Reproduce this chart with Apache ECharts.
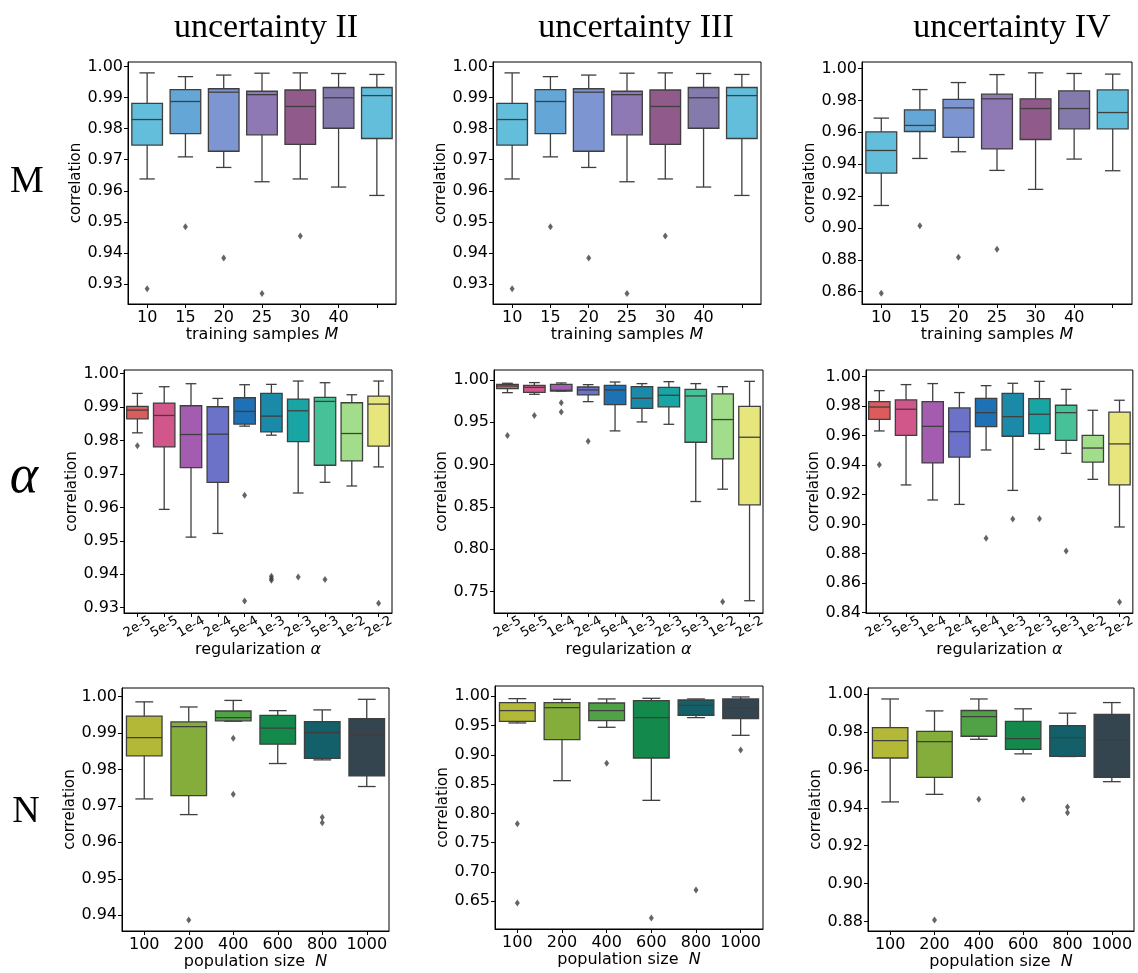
<!DOCTYPE html>
<html><head><meta charset="utf-8">
<script src="https://cdn.jsdelivr.net/npm/echarts@6/dist/echarts.min.js"></script>
<style>html,body{margin:0;padding:0;background:#fff}#c{width:1138px;height:973px}</style>
</head><body><div id="c"></div>
<script>
// ---------- categories ----------
const catM = ['10','15','20','25','30','40',''];
const catAlpha = ['2e-5','5e-5','1e-4','2e-4','5e-4','1e-3','2e-3','5e-3','1e-2','2e-2'];
const catN = ['100','200','400','600','800','1000'];

const colTitles = ['uncertainty II','uncertainty III','uncertainty IV'];
const rowLabels = ['M','α','N'];

// ---------- box data: [low whisker, Q1, median, Q3, high whisker] ----------
const boxM_II = [
 [0.9638,0.9747,0.9829,0.9881,0.9979],
 [0.9709,0.9784,0.9887,0.9925,0.9967],
 [0.9675,0.9727,0.9917,0.9928,0.9972],
 [0.9629,0.9780,0.9909,0.9920,0.9978],
 [0.9638,0.9749,0.9871,0.9924,0.9979],
 [0.9612,0.9801,0.9899,0.9932,0.9977],
 [0.9585,0.9768,0.9906,0.9932,0.9974]
];
const outM_II = [[0,0.9285],[1,0.9484],[2,0.9384],[3,0.9270],[4,0.9455]];

const boxM_III = [
 [0.9638,0.9747,0.9829,0.9881,0.9979],
 [0.9709,0.9784,0.9887,0.9925,0.9967],
 [0.9675,0.9727,0.9917,0.9928,0.9972],
 [0.9629,0.9780,0.9909,0.9920,0.9978],
 [0.9638,0.9749,0.9871,0.9924,0.9979],
 [0.9612,0.9801,0.9899,0.9932,0.9977],
 [0.9585,0.9768,0.9906,0.9932,0.9974]
];
const outM_III = [[0,0.9285],[1,0.9484],[2,0.9384],[3,0.9270],[4,0.9455]];

const boxM_IV = [
 [0.9141,0.9344,0.9486,0.9603,0.9689],
 [0.9436,0.9605,0.9643,0.9741,0.9868],
 [0.9478,0.9568,0.9753,0.9806,0.9912],
 [0.9361,0.9496,0.9810,0.9839,0.9962],
 [0.9242,0.9555,0.9749,0.9810,0.9973],
 [0.9432,0.9622,0.9749,0.9860,0.9969],
 [0.9359,0.9622,0.9724,0.9866,0.9965]
];
const outM_IV = [[0,0.8590],[1,0.9014],[2,0.8817],[3,0.8867]];

const boxA_II = [
 [0.9823,0.9865,0.9891,0.9902,0.9941],
 [0.9594,0.9781,0.9875,0.9912,0.9961],
 [0.9511,0.9719,0.9818,0.9904,0.9970],
 [0.9522,0.9675,0.9819,0.9901,0.9926],
 [0.9843,0.9849,0.9887,0.9928,0.9967],
 [0.9816,0.9826,0.9873,0.9941,0.9968],
 [0.9643,0.9797,0.9889,0.9924,0.9978],
 [0.9675,0.9726,0.9917,0.9929,0.9973],
 [0.9664,0.9739,0.9821,0.9913,0.9937],
 [0.9721,0.9783,0.9909,0.9933,0.9978]
];
const outA_II = [[0,0.9784],[4,0.9636],[4,0.9320],[5,0.9394],[5,0.9387],[5,0.9382],[6,0.9392],[7,0.9384],[9,0.9313]];

const boxA_III = [
 [0.9850,0.9898,0.9929,0.9949,0.9961],
 [0.9831,0.9854,0.9913,0.9937,0.9969],
 [0.9870,0.9870,0.9878,0.9949,0.9965],
 [0.9744,0.9823,0.9882,0.9917,0.9945],
 [0.9398,0.9709,0.9882,0.9937,0.9976],
 [0.9504,0.9665,0.9784,0.9921,0.9957],
 [0.9476,0.9681,0.9819,0.9913,0.9980],
 [0.8563,0.9264,0.9811,0.9890,0.9957],
 [0.8709,0.9067,0.9532,0.9835,0.9921],
 [0.7390,0.8524,0.9323,0.9689,0.9984]
];
const outA_III = [[0,0.9343],[1,0.9579],[2,0.9732],[2,0.9622],[3,0.9276],[8,0.7378]];

const boxA_IV = [
 [0.9632,0.9711,0.9794,0.9831,0.9905],
 [0.9266,0.9602,0.9779,0.9842,0.9946],
 [0.9164,0.9415,0.9663,0.9831,0.9953],
 [0.9134,0.9455,0.9627,0.9788,0.9892],
 [0.9503,0.9661,0.9756,0.9853,0.9939],
 [0.9229,0.9596,0.9729,0.9887,0.9955],
 [0.9507,0.9614,0.9745,0.9851,0.9968],
 [0.9480,0.9568,0.9756,0.9806,0.9914],
 [0.9304,0.9421,0.9516,0.9602,0.9772],
 [0.8981,0.9266,0.9544,0.9760,0.9840]
];
const outA_IV = [[0,0.9403],[4,0.8904],[5,0.9035],[6,0.9037],[7,0.8818],[9,0.8472]];

const boxN_II = [
 [0.9719,0.9837,0.9887,0.9946,0.9985],
 [0.9676,0.9728,0.9917,0.9930,0.9971],
 [0.9932,0.9933,0.9942,0.9960,0.9989],
 [0.9816,0.9869,0.9913,0.9948,0.9961],
 [0.9826,0.9830,0.9901,0.9931,0.9963],
 [0.9753,0.9782,0.9895,0.9939,0.9992]
];
const outN_II = [[1,0.9387],[2,0.9885],[2,0.9732],[4,0.9669],[4,0.9654]];

const boxN_III = [
 [0.9545,0.9573,0.9755,0.9892,0.9960],
 [0.8560,0.9260,0.9807,0.9892,0.9949],
 [0.9471,0.9585,0.9755,0.9886,0.9955],
 [0.8224,0.8947,0.9636,0.9926,0.9966],
 [0.9636,0.9676,0.9846,0.9937,0.9955],
 [0.9334,0.9619,0.9807,0.9955,0.9989]
];
const outN_III = [[0,0.7826],[0,0.6472],[2,0.8856],[3,0.6216],[4,0.6694],[5,0.9084]];

const boxN_IV = [
 [0.9431,0.9663,0.9755,0.9824,0.9975],
 [0.9471,0.9561,0.9750,0.9804,0.9912],
 [0.9762,0.9778,0.9882,0.9914,0.9975],
 [0.9685,0.9709,0.9766,0.9857,0.9923],
 [0.9671,0.9672,0.9771,0.9834,0.9900],
 [0.9538,0.9561,0.9760,0.9894,0.9956]
];
const outN_IV = [[1,0.8807],[2,0.9445],[3,0.9445],[4,0.9404],[4,0.9374]];

// ---------- y tick labels ----------
const ticksM_II  = [0.93,0.94,0.95,0.96,0.97,0.98,0.99,1.00];
const ticksM_III = [0.93,0.94,0.95,0.96,0.97,0.98,0.99,1.00];
const ticksM_IV  = [0.86,0.88,0.90,0.92,0.94,0.96,0.98,1.00];
const ticksA_II  = [0.93,0.94,0.95,0.96,0.97,0.98,0.99,1.00];
const ticksA_III = [0.75,0.80,0.85,0.90,0.95,1.00];
const ticksA_IV  = [0.84,0.86,0.88,0.90,0.92,0.94,0.96,0.98,1.00];
const ticksN_II  = [0.94,0.95,0.96,0.97,0.98,0.99,1.00];
const ticksN_III = [0.65,0.70,0.75,0.80,0.85,0.90,0.95,1.00];
const ticksN_IV  = [0.88,0.90,0.92,0.94,0.96,0.98,1.00];

// ---------- colours ----------
const colorsM = ['#63bedb','#64a7d6','#7d95d1','#8e79b5','#905b8b','#857aac','#63bedb'];
const colorsAlpha = ['#dc5c5c','#d1578a','#a45cb0','#6b72c7','#1f71b5','#1b89a8','#18a5a3','#46c198','#a2dd8b','#e7e67d'];
const colorsN = ['#b3b936','#85ad3c','#51a247','#138a4c','#13606a','#34454f'];

// ---------- panels ----------
const FONT = 'DejaVu Sans';
const panels = [
 {cat:catM, box:boxM_II,  out:outM_II,  ticks:ticksM_II,  col:colorsM, min:0.9236, max:1.0014, g:{l:128,t:62,w:268,h:242}, row:0},
 {cat:catM, box:boxM_III, out:outM_III, ticks:ticksM_III, col:colorsM, min:0.9236, max:1.0014, g:{l:493,t:62,w:268,h:242}, row:0},
 {cat:catM, box:boxM_IV,  out:outM_IV,  ticks:ticksM_IV,  col:colorsM, min:0.8523, max:1.0041, g:{l:862,t:62,w:270,h:242}, row:0},
 {cat:catAlpha, box:boxA_II,  out:outA_II,  ticks:ticksA_II,  col:colorsAlpha, min:0.9284, max:1.0011, g:{l:124,t:370,w:268,h:243}, row:1},
 {cat:catAlpha, box:boxA_III, out:outA_III, ticks:ticksA_III, col:colorsAlpha, min:0.7245, max:1.0118, g:{l:494,t:370,w:269,h:243}, row:1},
 {cat:catAlpha, box:boxA_IV,  out:outA_IV,  ticks:ticksA_IV,  col:colorsAlpha, min:0.8398, max:1.0045, g:{l:866,t:370,w:267,h:243}, row:1},
 {cat:catN, box:boxN_II,  out:outN_II,  ticks:ticksN_II,  col:colorsN, min:0.9357, max:1.0023, g:{l:122,t:688,w:267,h:243}, row:2},
 {cat:catN, box:boxN_III, out:outN_III, ticks:ticksN_III, col:colorsN, min:0.6027, max:1.0176, g:{l:495,t:686,w:268,h:243}, row:2},
 {cat:catN, box:boxN_IV,  out:outN_IV,  ticks:ticksN_IV,  col:colorsN, min:0.8749, max:1.0033, g:{l:868,t:688,w:266,h:243}, row:2}
];
const xNames = ['training samples {i|M}','regularization {i|α}','population size  {i|N}'];

const STROKE = '#3f3f3f';
function boxRender(colors){
  return function(params, api){
    const i = api.value(0);
    const band = api.size([1,0])[0];
    const w = band*0.8, cw = w*0.5;
    const cx = api.coord([i, api.value(3)])[0];
    const y = k => api.coord([i, api.value(k)])[1];
    const yLo=y(1), yQ1=y(2), yMed=y(3), yQ3=y(4), yHi=y(5);
    const ls = {stroke:STROKE, lineWidth:1.3};
    return {type:'group', children:[
      {type:'line', shape:{x1:cx,y1:yQ1,x2:cx,y2:yLo}, style:ls},
      {type:'line', shape:{x1:cx,y1:yQ3,x2:cx,y2:yHi}, style:ls},
      {type:'line', shape:{x1:cx-cw/2,y1:yLo,x2:cx+cw/2,y2:yLo}, style:ls},
      {type:'line', shape:{x1:cx-cw/2,y1:yHi,x2:cx+cw/2,y2:yHi}, style:ls},
      {type:'rect', shape:{x:cx-w/2,y:yQ3,width:w,height:yQ1-yQ3}, style:{fill:colors[i], stroke:STROKE, lineWidth:1.3}},
      {type:'line', shape:{x1:cx-w/2,y1:yMed,x2:cx+w/2,y2:yMed}, style:ls}
    ]};
  };
}

const grid=[], xAxis=[], yAxis=[], series=[];
panels.forEach((p, k) => {
  grid.push({left:p.g.l, top:p.g.t, width:p.g.w, height:p.g.h, show:true, borderColor:'#000', borderWidth:1, containLabel:false});
  const rotated = p.row === 1;
  xAxis.push({
    type:'category', gridIndex:k, data:p.cat, boundaryGap:true,
    axisLine:{show:true, lineStyle:{color:'#000', width:1}},
    axisTick:{show:true, alignWithLabel:true, length:4, inside:false, lineStyle:{color:'#000'}, interval:0},
    axisLabel: rotated
      ? {interval:0, rotate:30, align:'center', verticalAlign:'middle', margin:14, fontSize:13, color:'#000', fontFamily:FONT}
      : {interval:0, margin:6, fontSize:16, color:'#000', fontFamily:FONT},
    splitLine:{show:false},
    name:xNames[p.row], nameLocation:'middle', nameGap: p.row===0 ? 21 : (p.row===1 ? 27 : 20),
    nameTextStyle:{fontSize:16, color:'#000', fontFamily:FONT, rich:{i:{fontStyle:'italic', fontSize:16, color:'#000', fontFamily:FONT}}}
  });
  yAxis.push({
    type:'value', gridIndex:k, min:p.min, max:p.max,
    axisLine:{show:true, lineStyle:{color:'#000', width:1}},
    axisTick:{show:true, length:4, inside:false, lineStyle:{color:'#000'}, customValues:p.ticks},
    axisLabel:{customValues:p.ticks, formatter:v => v.toFixed(2), fontSize:16, color:'#000', fontFamily:FONT, margin:5},
    splitLine:{show:false},
    name:'correlation', nameLocation:'middle', nameRotate:90, nameGap:40,
    nameTextStyle:{fontSize:15, color:'#000', fontFamily:FONT}
  });
  series.push({
    type:'custom', xAxisIndex:k, yAxisIndex:k,
    data:p.box.map((b,i) => [i].concat(b)),
    encode:{x:0, y:[1,2,3,4,5]},
    renderItem:boxRender(p.col), clip:false, silent:true
  });
  series.push({
    type:'scatter', xAxisIndex:k, yAxisIndex:k, data:p.out,
    symbol:'diamond', symbolSize:[5,7], itemStyle:{color:STROKE}, silent:true
  });
});

const titleX = [266, 636, 1012];
const rowY = [182, 478, 812];
const graphic = [];
colTitles.forEach((t,i) => graphic.push({type:'text', x:titleX[i], y:28,
  style:{text:t, font:'34px "Liberation Serif"', fill:'#000', align:'center', verticalAlign:'middle'}}));
graphic.push({type:'text', x:27, y:rowY[0], style:{text:rowLabels[0], font:'38px "Liberation Serif"', fill:'#000', align:'center', verticalAlign:'middle'}});
graphic.push({type:'text', x:24, y:rowY[1], style:{text:rowLabels[1], font:'italic 54px "Liberation Serif"', fill:'#000', align:'center', verticalAlign:'middle'}});
graphic.push({type:'text', x:26, y:rowY[2], style:{text:rowLabels[2], font:'38px "Liberation Serif"', fill:'#000', align:'center', verticalAlign:'middle'}});

const chart = echarts.init(document.getElementById('c'), null, {renderer:'canvas', width:1138, height:973});
chart.setOption({animation:false, backgroundColor:'#fff', grid, xAxis, yAxis, series, graphic});
</script></body></html>
